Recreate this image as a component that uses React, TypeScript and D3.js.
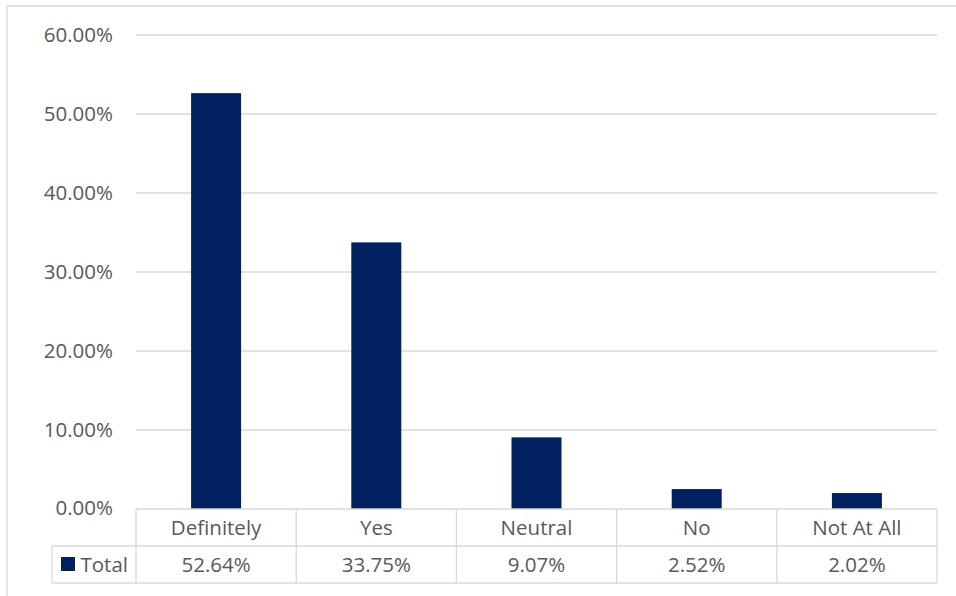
import React from "react";
import * as d3 from "d3";

const categories = ["Definitely", "Yes", "Neutral", "No", "Not At All"];
const values = [52.64, 33.75, 9.07, 2.52, 2.02];
const yTicks = [0, 10, 20, 30, 40, 50, 60];
const seriesName = "Total";

export default function App() {
  const W = 956, H = 596;
  const left = 136, right = 937, top = 35, bottom = 509;
  const rowH = 37;
  const x = d3.scaleBand<string>().domain(categories).range([left, right]).paddingInner(0).paddingOuter(0);
  const y = d3.scaleLinear().domain([0, 60]).range([bottom, top]);
  const barW = 50;
  const font = "'Open Sans', sans-serif";
  const fs = 20.5;
  const grid = "#d9d9d9";
  const text = "#595959";
  const barColor = "#002060";
  return (
    <svg width={W} height={H} style={{ position: "absolute", left: 0, top: 0, background: "#fff" }} fontFamily={font}>
      <rect x={0} y={0} width={W} height={H} fill="#fff" />
      {/* chart border */}
      <line x1={7} y1={6} x2={W} y2={6} stroke={grid} strokeWidth={1.3} />
      <line x1={7} y1={6} x2={7} y2={H} stroke={grid} strokeWidth={1.3} />
      {yTicks.map((t) => (
        <g key={t}>
          {t > 0 && <line x1={left} x2={right} y1={y(t)} y2={y(t)} stroke={grid} strokeWidth={1.3} />}
          <text x={113} y={t === 0 ? y(t) - 1 : y(t)} dy="0.35em" textAnchor="end" fontSize={fs} fill={text}>
            {t.toFixed(2) + "%"}
          </text>
        </g>
      ))}
      {categories.map((c, i) => (
        <rect key={c} x={x(c)! + x.bandwidth() / 2 - barW / 2} y={y(values[i])} width={barW} height={bottom - y(values[i])} fill={barColor} />
      ))}
      {/* data table */}
      <line x1={left} x2={right} y1={bottom} y2={bottom} stroke={grid} strokeWidth={1.3} />
      <line x1={52} x2={right} y1={bottom + rowH} y2={bottom + rowH} stroke={grid} strokeWidth={1.3} />
      <line x1={52} x2={right} y1={bottom + 2 * rowH} y2={bottom + 2 * rowH} stroke={grid} strokeWidth={1.3} />
      <line x1={52} x2={52} y1={bottom + rowH} y2={bottom + 2 * rowH} stroke={grid} strokeWidth={1.3} />
      {[...categories.map((c) => x(c)!), right].map((xx, i) => (
        <line key={i} x1={xx} x2={xx} y1={bottom} y2={bottom + 2 * rowH} stroke={grid} strokeWidth={1.3} />
      ))}
      {categories.map((c, i) => (
        <g key={c}>
          <text x={x(c)! + x.bandwidth() / 2} y={bottom + rowH / 2} dy="0.35em" textAnchor="middle" fontSize={fs} fill={text}>{c}</text>
          <text x={x(c)! + x.bandwidth() / 2} y={bottom + rowH * 1.5} dy="0.35em" textAnchor="middle" fontSize={fs} fill={text}>{values[i].toFixed(2) + "%"}</text>
        </g>
      ))}
      <rect x={61} y={557} width={14} height={14} fill={barColor} />
      <text x={80.5} y={bottom + rowH * 1.5} dy="0.35em" fontSize={fs} fill={text}>{seriesName}</text>
    </svg>
  );
}
